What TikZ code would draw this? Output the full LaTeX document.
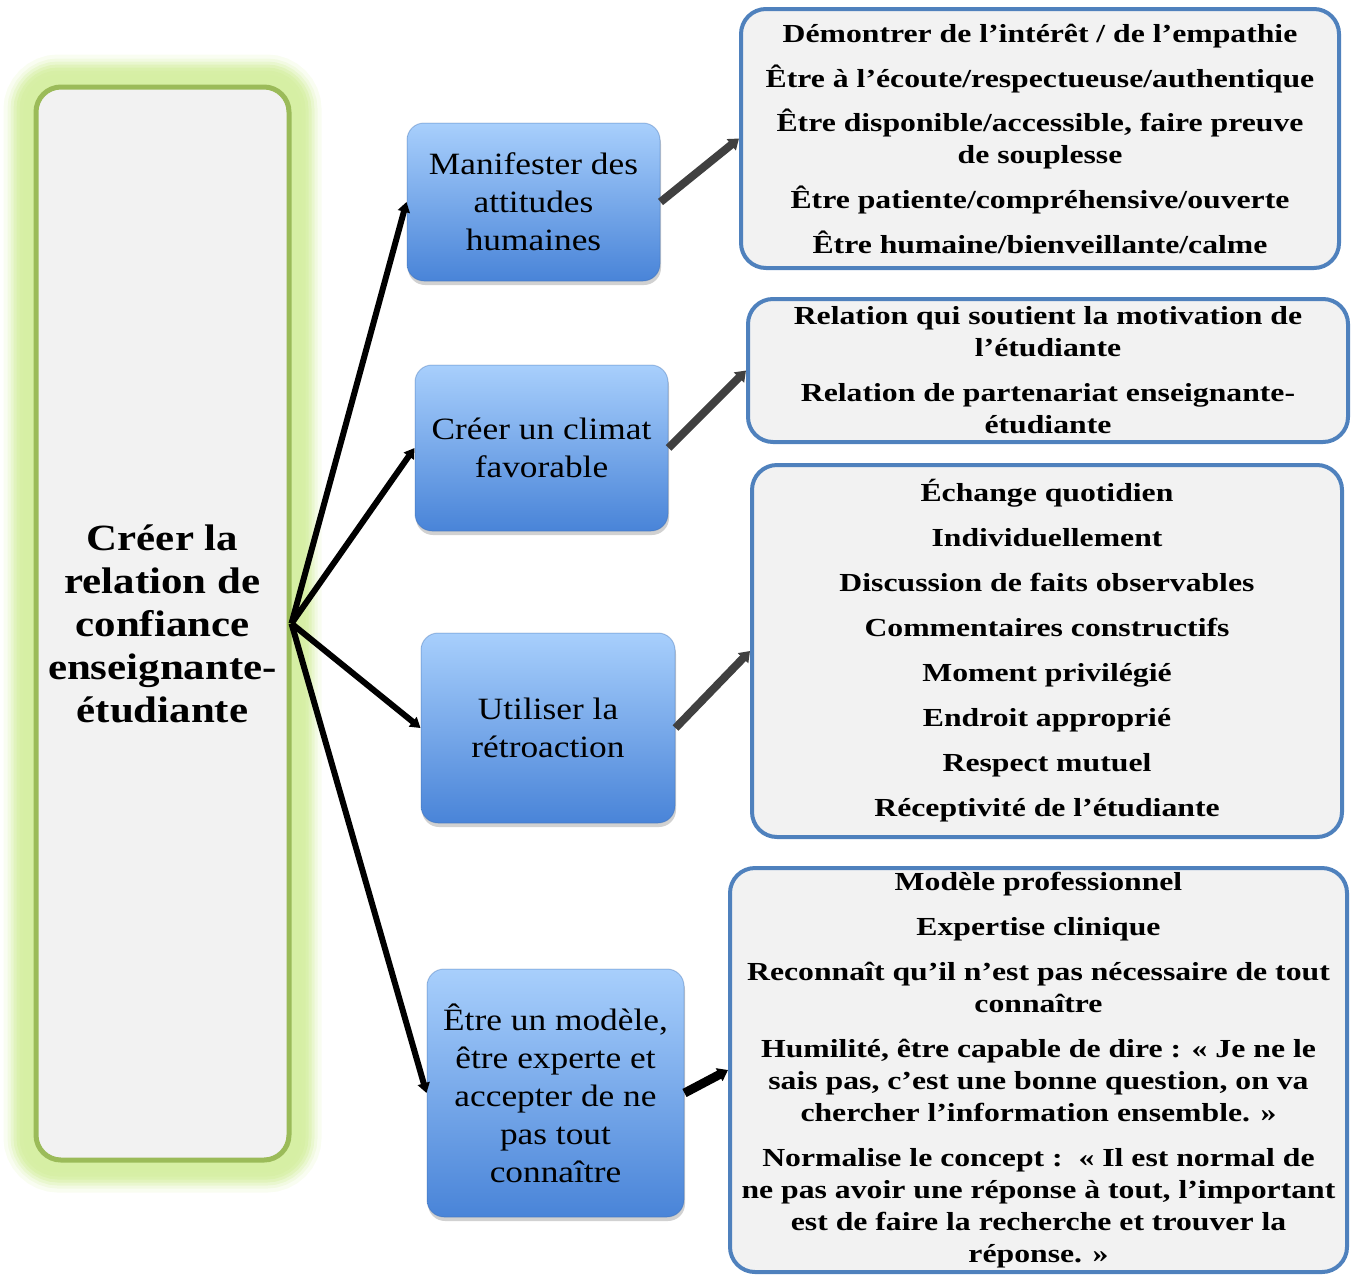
\documentclass[tikz,border=0pt]{standalone}
\usepackage{fontspec}
\setmainfont{Liberation Serif}[FakeStretch=1.14]
\newfontfamily\listfont{Liberation Serif}[FakeStretch=1.22]
\newfontfamily\rootfont{Liberation Serif}[FakeStretch=1.16]
\usetikzlibrary{arrows.meta,shadows,backgrounds}
\definecolor{glowgreen}{HTML}{D6EFA4}
\definecolor{leafgreen}{HTML}{9BBB59}
\definecolor{boxfill}{HTML}{F2F2F2}
\definecolor{edgeblue}{HTML}{4F81BD}
\definecolor{topblue}{HTML}{A8CFFC}
\definecolor{botblue}{HTML}{4984D8}
\definecolor{arrowgray}{HTML}{404040}
\tikzset{
  rootbox/.style={fill=boxfill, draw=leafgreen, line width=5pt, rounded corners=25pt,
    align=center, inner sep=0pt, font=\rootfont\fontsize{37}{43}\selectfont\bfseries},
  bluebox/.style={top color=topblue, bottom color=botblue, draw=botblue!80!black, draw opacity=0.35, line width=1pt, rounded corners=17pt,
    align=center, inner sep=0pt, font=\fontsize{31}{38}\selectfont,
    drop shadow={shadow xshift=1pt, shadow yshift=-4pt, opacity=0.18, fill=black}},
  listbox/.style={fill=boxfill, draw=edgeblue, line width=4pt, rounded corners=25pt,
    align=center, inner sep=0pt, font=\listfont\fontsize{26}{32}\selectfont\bfseries},
  mainarrow/.style={draw=black, line width=6pt, -{Triangle[length=10pt,width=12pt]}},
  subarrow/.style={draw=arrowgray, line width=8pt, -{Triangle[length=10pt,width=14pt]}},
}
\begin{document}
\begin{tikzpicture}[x=1pt,y=-1pt]
\useasboundingbox (0,0) rectangle (1356,1274);

% root
\node[rootbox, minimum width=253pt, minimum height=1073pt] (root) at (162.5,623.5)
  {Créer la\\relation de\\confiance\\enseignante-\\étudiante};
\begin{pgfonlayer}{background}
  \foreach \w/\o in {60/0.15, 52/0.2, 46/0.3, 40/0.45, 34/0.6, 28/0.8, 20/1}
    \draw[glowgreen, line width=\w pt, opacity=\o, rounded corners=25pt]
      (root.north west) rectangle (root.south east);
\end{pgfonlayer}

% blue boxes
\node[bluebox, minimum width=253pt, minimum height=158pt] (b1) at (533.5,202)
  {Manifester des\\attitudes\\humaines};
\node[bluebox, minimum width=253pt, minimum height=166pt] (b2) at (541.5,448)
  {Créer un climat\\favorable};
\node[bluebox, minimum width=254pt, minimum height=190pt] (b3) at (548,728)
  {Utiliser la\\rétroaction};
\node[bluebox, minimum width=257pt, minimum height=248pt] (b4) at (555.5,1093)
  {Être un modèle,\\être experte et\\accepter de ne\\pas tout\\connaître};

% list boxes
\node[listbox, minimum width=598pt, minimum height=259pt] (r1) at (1040,138.5)
  {Démontrer de l’intérêt / de l’empathie\\[13pt]
   Être à l’écoute/respectueuse/authentique\\[12pt]
   Être disponible/accessible, faire preuve\\de souplesse\\[13pt]
   Être patiente/compréhensive/ouverte\\[13pt]
   Être humaine/bienveillante/calme};
\node[listbox, minimum width=600pt, minimum height=143pt] (r2) at (1048,370.5)
  {Relation qui soutient la motivation de\\l’étudiante\\[13pt]
   Relation de partenariat enseignante-\\étudiante};
\node[listbox, minimum width=590pt, minimum height=372pt] (r3) at (1047,651)
  {Échange quotidien\\[13pt]
   Individuellement\\[13pt]
   Discussion de faits observables\\[13pt]
   Commentaires constructifs\\[13pt]
   Moment privilégié\\[13pt]
   Endroit approprié\\[13pt]
   Respect mutuel\\[13pt]
   Réceptivité de l’étudiante};
\node[listbox, minimum width=617pt, minimum height=404pt] (r4) at (1038.5,1070)
  {Modèle professionnel\\[13pt]
   Expertise clinique\\[13pt]
   Reconnaît qu’il n’est pas nécessaire de tout\\connaître\\[13pt]
   Humilité, être capable de dire : « Je ne le\\sais pas, c’est une bonne question, on va\\chercher l’information ensemble. »\\[13pt]
   Normalise le concept :~~« Il est normal de\\ne pas avoir une réponse à tout, l’important\\est de faire la recherche et trouver la\\réponse. »};

% connectors
\draw[mainarrow] (root.east) -- (b1.west);
\draw[mainarrow] (root.east) -- (b2.west);
\draw[mainarrow] (root.east) -- (b3.west);
\draw[mainarrow] (root.east) -- (b4.west);

\draw[subarrow] (b1.east) -- (r1.west);
\draw[subarrow] (b2.east) -- (r2.west);
\draw[subarrow] (b3.east) -- (r3.west);
\draw[subarrow, draw=black, line width=9pt] (b4.east) -- (r4.west);
\end{tikzpicture}
\end{document}
